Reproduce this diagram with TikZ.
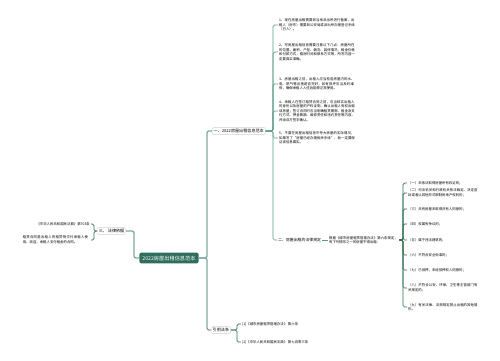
\documentclass[tikz,border=0pt]{standalone}
\usepackage{fontspec}
\setmainfont{Noto Sans CJK SC}
\XeTeXlinebreaklocale "zh"
\XeTeXlinebreakskip = 0pt plus 1pt
\usepackage{tikz}
\usetikzlibrary{positioning,calc}
\definecolor{rootgreen}{HTML}{2F6E5C}
\definecolor{branchgray}{HTML}{82A99F}
\definecolor{twiggreen}{HTML}{5E9C8C}
\definecolor{leafgreen}{HTML}{2E7050}
\newcommand{\mmbig}{\fontsize{5.2}{6}\selectfont}
\newcommand{\mmmid}{\fontsize{4.1}{5}\selectfont}
\newcommand{\mmsmall}{\fontsize{3.4}{4.6}\selectfont}

\begin{document}
\begin{tikzpicture}[x=1pt, y=-1pt,
  root/.style={fill=rootgreen, text=white, rounded corners=2pt, font=\mmbig, inner xsep=3pt, inner ysep=3pt},
  topic/.style={draw=gray!35, fill=white, rounded corners=1pt, font=\mmmid, inner sep=1.5pt},
  leaf/.style={font=\mmsmall, align=left, inner sep=1pt},
  branch/.style={draw=branchgray, line width=1.3pt, rounded corners=2pt},
  twig/.style={draw=#1, line width=0.7pt, rounded corners=1.5pt}]
\fill[white] (0,0) rectangle (500,360);
\useasboundingbox (0,0) rectangle (500,360);

% centre and first level
\node[root] (root) at (169,258) {2022房屋出租信息范本};
\node[topic, anchor=east] (three) at (126,231) {三、 法律依据};
\node[topic, anchor=west] (one) at (212,131) {一、2022房屋出租信息范本};
\node[topic, anchor=west] (cite) at (211,330) {引用法条};
\coordinate (brR) at (207,0);
\coordinate (brL) at (134,0);
\draw[branch] (root.east) -- (root.east -| brR) |- (one.west);
\draw[branch] (root.east) -- (root.east -| brR) |- (cite.west);
\draw[branch] (root.west) -- (root.west -| brL) |- (three.east);

% left: legal basis
\node[leaf, anchor=east] (law1) at (91,224) {《中华人民共和国民法典》第703条};
\node[leaf, anchor=east, text width=67pt] (law2) at (91,240) {租赁合同是出租人将租赁物交付承租人使用、收益，承租人支付租金的合同。};
\coordinate (brA) at (94,0);
\draw[twig=leafgreen] (three.west) -- (three.west -| brA) |- (law1.east);
\draw[twig=leafgreen] (three.west) -- (three.west -| brA) |- (law2.east);

% right: items of part one
\node[leaf, anchor=west, text width=76pt] (t1) at (278,25) {1、现在房屋出租需要到当地派出所进行备案，出租人（房东）需要到公安局或派出所办理登记手续（已入）。};
\node[leaf, anchor=west, text width=76pt] (t2) at (278,52) {2、写房屋出租信息需要注意以下几点：房屋所在的位置、面积、户型、朝向、装修情况，租金价格和付款方式，看房时间和联系方式等，所写内容一定要真实准确。};
\node[leaf, anchor=west, text width=76pt] (t3) at (278,84) {3、房屋出租之前，出租人应当检查房屋内的水、电、燃气等设施是否完好，如有损坏应当及时维修，确保承租人入住后能够正常使用。};
\node[leaf, anchor=west, text width=76pt] (t4) at (278,111) {4、承租人在签订租赁合同之前，应当核实出租人的身份以及房屋的产权证明，确认出租人有权出租该房屋；签订合同时应当明确租赁期限、租金及支付方式、押金数额、维修责任和违约责任等内容，并由双方签字确认。};
\node[leaf, anchor=west, text width=76pt] (t5) at (278,138) {5、不要在房屋出租信息中夸大房屋的实际情况，如果写了“房屋已经办理相关手续”，就一定要保证该信息属实。};
\node[leaf, anchor=west, font=\fontsize{3.9}{4.8}\selectfont] (two) at (277,240) {二、房屋出租的法律规定};
\coordinate (brB) at (273,0);
\foreach \t in {t1,t2,t3,t4,t5,two}
  \draw[twig=twiggreen] (one.east) -- (one.east -| brB) |- (\t.west);

% part two
\node[leaf, anchor=west, text width=69pt] (rule) at (328,240) {根据《城市房屋租赁管理办法》第六条规定，有下列情形之一的房屋不得出租：};
\draw[twig=twiggreen] (two.east) -- (rule.west);
\node[leaf, anchor=west, text width=70pt] (c1) at (407,183) {（一）未依法取得房屋所有权证的；};
\node[leaf, anchor=west, text width=70pt] (c2) at (407,193) {（二）司法机关和行政机关依法裁定、决定查封或者以其他形式限制房地产权利的；};
\node[leaf, anchor=west, text width=70pt] (c3) at (407,209) {（三）共有房屋未取得共有人同意的；};
\node[leaf, anchor=west, text width=70pt] (c4) at (407,224) {（四）权属有争议的；};
\node[leaf, anchor=west, text width=70pt] (c5) at (407,240) {（五）属于违法建筑的；};
\node[leaf, anchor=west, text width=70pt] (c6) at (407,255) {（六）不符合安全标准的；};
\node[leaf, anchor=west, text width=70pt] (c7) at (407,270) {（七）已抵押，未经抵押权人同意的；};
\node[leaf, anchor=west, text width=70pt] (c8) at (407,288) {（八）不符合公安、环保、卫生等主管部门有关规定的；};
\node[leaf, anchor=west, text width=70pt] (c9) at (407,307) {（九）有关法律、法规规定禁止出租的其他情形。};
\coordinate (brC) at (403,0);
\foreach \c in {c1,c2,c3,c4,c5,c6,c7,c8,c9}
  \draw[twig=leafgreen] (rule.east) -- (rule.east -| brC) |- (\c.west);

% cited articles
\node[leaf, anchor=west] (ref1) at (241,324) {[1]《城市房屋租赁管理办法》 第六条};
\node[leaf, anchor=west] (ref2) at (241,342) {[2]《中华人民共和国民法典》 第七百零三条};
\coordinate (brD) at (237,0);
\draw[twig=leafgreen] (cite.east) -- (cite.east -| brD) |- (ref1.west);
\draw[twig=leafgreen] (cite.east) -- (cite.east -| brD) |- (ref2.west);
\end{tikzpicture}
\end{document}
